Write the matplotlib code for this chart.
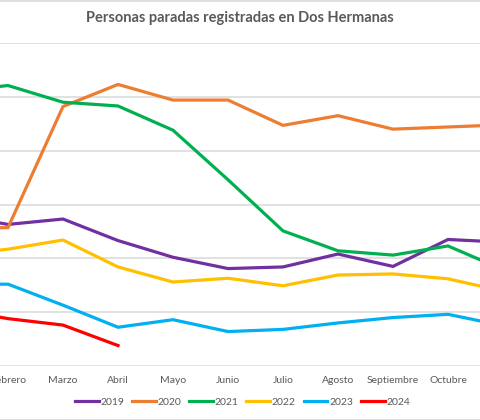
import matplotlib
matplotlib.use("Agg")
import matplotlib.pyplot as plt
from matplotlib.lines import Line2D

# months (Enero and Noviembre fall just outside the visible crop)
meses = ["Enero", "Febrero", "Marzo", "Abril", "Mayo", "Junio", "Julio",
         "Agosto", "Septiembre", "Octubre", "Noviembre"]

# values, in gridline units (no y labels visible)
y2019 = [2.81, 2.63, 2.73, 2.33, 2.02, 1.81, 1.84, 2.08, 1.85, 2.35, 2.30]
y2020 = [2.56, 2.57, 4.82, 5.23, 4.94, 4.94, 4.47, 4.65, 4.40, 4.44, 4.48]
y2021 = [5.10, 5.21, 4.90, 4.83, 4.38, 3.46, 2.51, 2.14, 2.06, 2.23, 1.79]
y2022 = [2.06, 2.17, 2.34, 1.84, 1.56, 1.63, 1.49, 1.69, 1.71, 1.62, 1.39]
y2023 = [1.52, 1.52, 1.13, 0.72, 0.86, 0.64, 0.68, 0.80, 0.90, 0.96, 0.75]
y2024 = [1.06, 0.88, 0.76, 0.38]

series = [
    ("2019", y2019, "#7030A0"),
    ("2020", y2020, "#ED7D31"),
    ("2021", y2021, "#00B050"),
    ("2022", y2022, "#FFC000"),
    ("2023", y2023, "#00B0F0"),
    ("2024", y2024, "#FF0000"),
]

GRAY = "#595959"
plt.rcParams["font.family"] = ["Lato", "DejaVu Sans"]

fig = plt.figure(figsize=(4.8, 4.2), dpi=100)
ax = fig.add_axes([0, 54 / 420, 1, 323 / 420])

for name, vals, col in series:
    ax.plot(range(len(vals)), vals, color=col, linewidth=2.3, label=name,
            solid_joinstyle="miter")

ax.set_yticks(range(7))
ax.yaxis.grid(True, color="#D9D9D9", linewidth=1.1)
ax.set_axisbelow(True)
ax.set_yticklabels([])
ax.tick_params(axis="y", length=0)
ax.set_xticks(range(len(meses)))
ax.set_xticklabels(meses, color=GRAY, fontsize=7.5)
ax.tick_params(axis="x", length=0, pad=7)
# set limits after the ticks, which would otherwise widen the view
ax.set_xlim(1 - 8 / 55, 1 + 472 / 55)
ax.set_ylim(0, 6)
for sp in ax.spines.values():
    sp.set_visible(False)

fig.text(0.5, 1 - 18 / 420, "Personas paradas registradas en Dos Hermanas",
         ha="center", va="center", fontsize=10.5, fontweight="bold", color=GRAY)

fig.legend(loc="center", bbox_to_anchor=(0.505, 18 / 420), ncol=6,
           frameon=False, fontsize=7.5, labelcolor=GRAY, handlelength=2.3,
           handletextpad=0.15, columnspacing=0.75)

# chart border (top and bottom edges visible in the crop)
for yy in (0.5 / 420, 1 - 0.5 / 420):
    fig.add_artist(Line2D([0, 1], [yy, yy], transform=fig.transFigure,
                          color="#D9D9D9", linewidth=1.2))

fig.savefig("out.png", dpi=100)
